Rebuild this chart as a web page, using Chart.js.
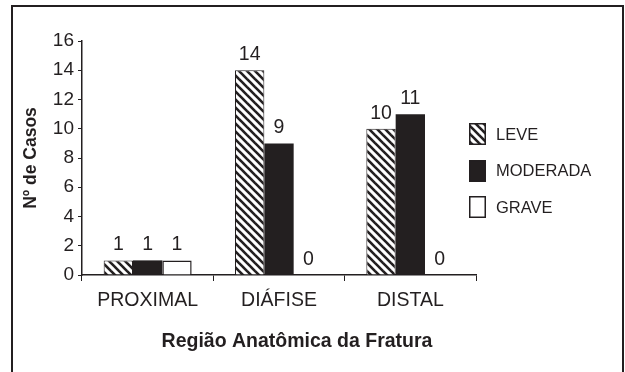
<!DOCTYPE html>
<html>
<head>
<meta charset="utf-8">
<script src="https://cdn.jsdelivr.net/npm/chart.js@4.4.1/dist/chart.umd.min.js"></script>
<style>
  html, body { margin: 0; padding: 0; background: #fff; }
  #wrap { position: relative; width: 625px; height: 372px; overflow: hidden; }
  #frame { position: absolute; left: 11px; top: 5px; width: 609px; height: 390px;
           border: 2px solid #231f20; border-bottom: none; }
  #c { position: absolute; left: 0; top: 0; }
</style>
</head>
<body>
<div id="wrap">
  <div id="frame"></div>
  <canvas id="c" width="625" height="372"></canvas>
</div>
<script>
// Fracture region (categories) and number of cases per severity
const regions = ['PROXIMAL', 'DIÁFISE', 'DISTAL'];
const leve = [1, 14, 10];
const moderada = [1, 9, 11];
const grave = [1, 0, 0];
const severityNames = ['LEVE', 'MODERADA', 'GRAVE'];
const yMin = 0, yMax = 16, yStep = 2;
const yTitle = 'Nº de Casos';
const xTitle = 'Região Anatômica da Fratura';

const ink = '#231f20';
const family = '"Liberation Sans", Arial, Helvetica, sans-serif';

// Diagonal "\" hatch used for the LEVE series
function makeHatch() {
  const size = 8;
  const c = document.createElement('canvas');
  c.width = size; c.height = size;
  const g = c.getContext('2d');
  g.fillStyle = '#fff';
  g.fillRect(0, 0, size, size);
  g.strokeStyle = ink;
  g.lineWidth = 2.6;
  g.lineCap = 'square';
  for (const k of [-size, 0, size]) {
    g.beginPath();
    g.moveTo(k - 1, -1);
    g.lineTo(k + size + 1, size + 1);
    g.stroke();
  }
  return document.getElementById('c').getContext('2d').createPattern(c, 'repeat');
}
const hatch = makeHatch();

// Value above each bar, positioned from the bar elements
const valueLabels = {
  id: 'valueLabels',
  afterDatasetsDraw(chart) {
    const ctx = chart.ctx;
    ctx.save();
    ctx.font = '19.5px ' + family;
    ctx.fillStyle = ink;
    ctx.textAlign = 'center';
    ctx.textBaseline = 'alphabetic';
    chart.data.datasets.forEach((ds, i) => {
      chart.getDatasetMeta(i).data.forEach((bar, j) => {
        ctx.fillText(String(ds.data[j]), bar.x, bar.y - 10);
      });
    });
    ctx.restore();
  }
};

// Legend to the right of the plot plus the horizontal axis caption
const sideLegend = {
  id: 'sideLegend',
  afterDraw(chart) {
    const ctx = chart.ctx;
    const area = chart.chartArea;
    ctx.save();
    const boxW = 17, boxH = 22;
    const bx = area.right - 7;
    chart.data.datasets.forEach((ds, i) => {
      const cy = area.top + 93 + i * 36.5;
      const by = Math.round(cy - boxH / 2);
      ctx.fillStyle = ds.backgroundColor;
      ctx.fillRect(bx, by, boxW, boxH);
      ctx.strokeStyle = ink;
      ctx.lineWidth = 1.5;
      ctx.strokeRect(bx + 0.75, by + 0.75, boxW - 1.5, boxH - 1.5);
      ctx.fillStyle = ink;
      ctx.font = '16.5px ' + family;
      ctx.textAlign = 'left';
      ctx.textBaseline = 'middle';
      ctx.fillText(ds.label, bx + 27, cy + 1);
    });
    ctx.font = 'bold 19.5px ' + family;
    ctx.textAlign = 'center';
    ctx.textBaseline = 'alphabetic';
    ctx.fillText(xTitle, (area.left + area.right) / 2 + 18, area.bottom + 71.5);
    ctx.restore();
  }
};

new Chart(document.getElementById('c'), {
  type: 'bar',
  data: {
    labels: regions,
    datasets: [
      { label: severityNames[0], data: leve, backgroundColor: hatch,
        borderColor: ink, borderWidth: 1 },
      { label: severityNames[1], data: moderada, backgroundColor: ink,
        borderColor: ink, borderWidth: 0 },
      { label: severityNames[2], data: grave, backgroundColor: '#ffffff',
        borderColor: ink, borderWidth: 1.5 }
    ]
  },
  options: {
    responsive: false,
    animation: false,
    devicePixelRatio: 1,
    layout: { padding: { top: 41, right: 149, bottom: 0, left: 0 } },
    datasets: { bar: { categoryPercentage: 0.67, barPercentage: 1.0 } },
    plugins: {
      legend: { display: false },
      tooltip: { enabled: false }
    },
    scales: {
      x: {
        afterFit(s) { s.height = 97; },
        border: { color: ink, width: 1.5 },
        grid: { drawOnChartArea: false, tickLength: 6, color: ink, lineWidth: 1 },
        ticks: { color: ink, font: { family: family, size: 19.5 }, padding: 8, maxRotation: 0 }
      },
      y: {
        min: yMin, max: yMax,
        afterFit(s) { s.width = 82; },
        border: { color: ink, width: 1.5 },
        grid: { drawOnChartArea: false, tickLength: 4, color: ink, lineWidth: 1 },
        ticks: { stepSize: yStep, color: ink, font: { family: family, size: 19 }, padding: 4 },
        title: { display: true, text: yTitle, color: ink,
                 font: { family: family, size: 17.5, weight: 'bold' },
                 padding: { top: 21, bottom: 0 } }
      }
    }
  },
  plugins: [valueLabels, sideLegend]
});
</script>
</body>
</html>
